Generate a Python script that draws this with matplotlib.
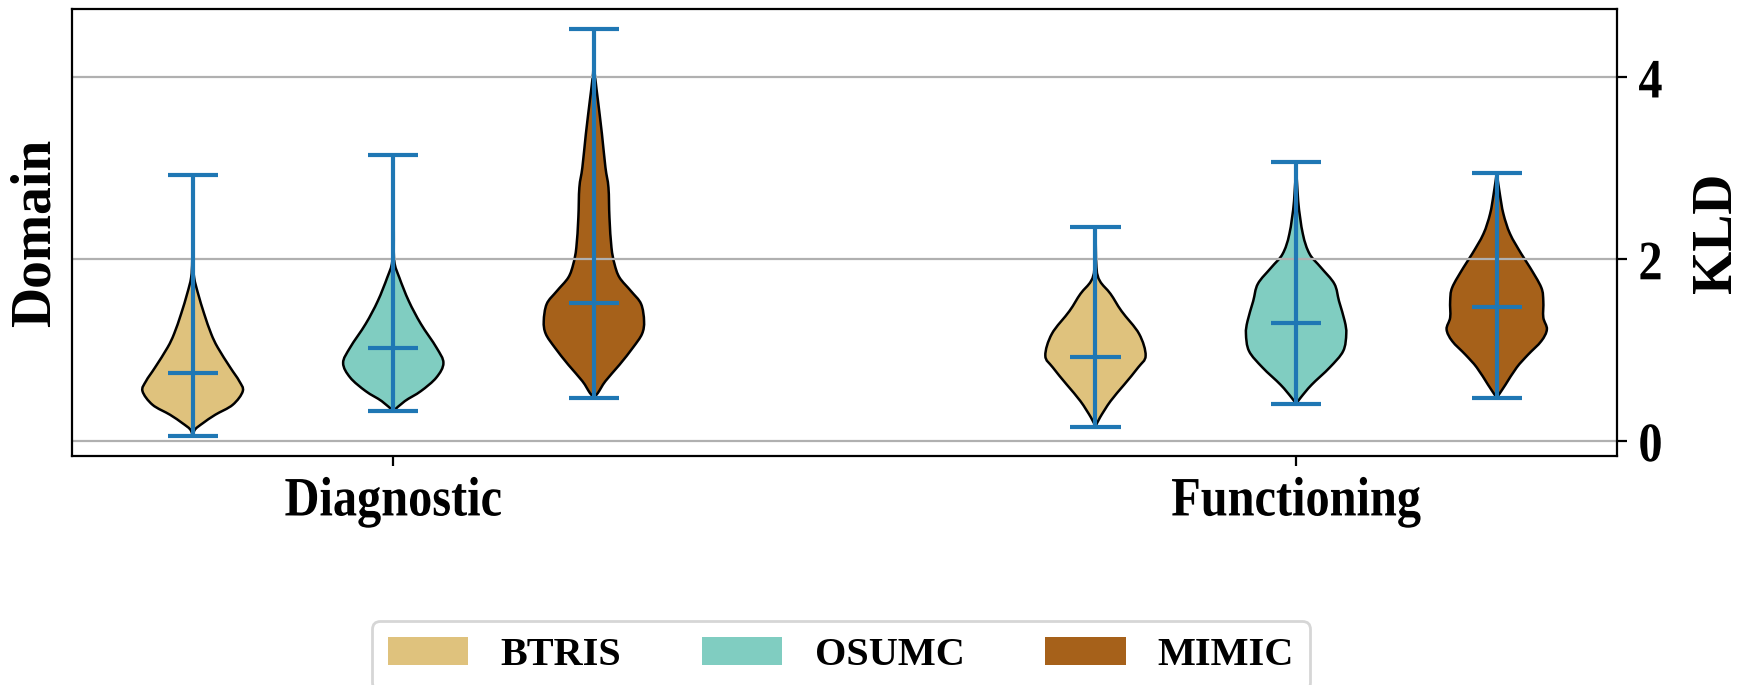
import matplotlib
matplotlib.use("Agg")
import matplotlib.pyplot as plt
from matplotlib.patches import Patch, PathPatch
from matplotlib.path import Path
from matplotlib.patheffects import AbstractPathEffect
from matplotlib.transforms import Affine2D
import numpy as np

plt.rcParams['font.family'] = ['Liberation Serif', 'DejaVu Serif']
plt.rcParams['font.weight'] = 'bold'

# ---- data -------------------------------------------------------------
groups = ['Diagnostic', 'Functioning']
sources = ['BTRIS', 'OSUMC', 'MIMIC']
source_colors = ['#dfc27d', '#80cdc1', '#a6611a']

# summary statistics of KLD per (group, source)
kld_min = [0.06, 0.33, 0.48, 0.16, 0.41, 0.48]
kld_max = [2.93, 3.15, 4.53, 2.36, 3.07, 2.95]
kld_mean = [0.75, 1.02, 1.52, 0.93, 1.30, 1.47]

# density profiles (KLD level, relative density)
diag_btris_levels = [0.06, 0.13, 0.20, 0.29, 0.40, 0.55, 0.66, 0.81, 1.03, 1.18, 1.40, 1.62, 1.80, 2.00, 2.40, 2.93]
diag_btris_density = [0.0, 0.05, 0.21, 0.45, 0.80, 1.0, 0.93, 0.75, 0.50, 0.37, 0.23, 0.11, 0.03, 0.008, 0.003, 0.0]

diag_osumc_levels = [0.33, 0.44, 0.55, 0.70, 0.86, 1.03, 1.29, 1.54, 1.80, 1.98, 2.30, 2.70, 3.15]
diag_osumc_density = [0.0, 0.23, 0.55, 0.86, 1.0, 0.86, 0.55, 0.31, 0.12, 0.02, 0.01, 0.004, 0.0]

diag_mimic_levels = [0.48, 0.53, 0.66, 0.84, 1.03, 1.18, 1.32, 1.51, 1.65, 1.80, 1.95, 2.13, 2.46, 2.79, 3.01, 3.38, 3.75, 3.93, 4.11, 4.53]
diag_mimic_density = [0.0, 0.08, 0.23, 0.51, 0.78, 0.96, 1.0, 0.94, 0.74, 0.51, 0.41, 0.35, 0.31, 0.29, 0.23, 0.16, 0.08, 0.04, 0.01, 0.0]

func_btris_levels = [0.16, 0.26, 0.44, 0.62, 0.81, 0.94, 1.18, 1.43, 1.62, 1.76, 1.91, 2.36]
func_btris_density = [0.0, 0.09, 0.30, 0.57, 0.85, 1.0, 0.87, 0.52, 0.30, 0.09, 0.02, 0.0]

func_osumc_levels = [0.41, 0.48, 0.62, 0.81, 0.99, 1.18, 1.32, 1.54, 1.73, 1.91, 2.06, 2.28, 2.64, 3.07]
func_osumc_density = [0.0, 0.09, 0.30, 0.65, 0.91, 0.97, 0.94, 0.83, 0.74, 0.48, 0.26, 0.13, 0.04, 0.0]

func_mimic_levels = [0.48, 0.51, 0.62, 0.81, 0.95, 1.10, 1.23, 1.36, 1.54, 1.69, 1.91, 2.06, 2.28, 2.50, 2.72, 2.95]
func_mimic_density = [0.0, 0.04, 0.17, 0.39, 0.61, 0.87, 0.98, 0.91, 0.91, 0.87, 0.65, 0.48, 0.26, 0.13, 0.06, 0.0]

profiles = [
    (diag_btris_levels, diag_btris_density),
    (diag_osumc_levels, diag_osumc_density),
    (diag_mimic_levels, diag_mimic_density),
    (func_btris_levels, func_btris_density),
    (func_osumc_levels, func_osumc_density),
    (func_mimic_levels, func_mimic_density),
]

# ---- layout -----------------------------------------------------------
group_centers = [2.0, 6.5]
offsets = [-1.0, 0.0, 1.0]
positions = [c + o for c in group_centers for o in offsets]
violin_width = 0.5


class Condensed(AbstractPathEffect):
    """Narrow the glyphs of a text along its baseline, about its centre."""

    def __init__(self, factor):
        super().__init__()
        self._factor = factor

    def draw_path(self, renderer, gc, tpath, affine, rgbFace=None):
        ext = tpath.get_extents()
        cx = 0.5 * (ext.x0 + ext.x1)
        narrow = Affine2D().translate(-cx, 0).scale(self._factor, 1).translate(cx, 0)
        renderer.draw_path(gc, tpath, narrow + affine, rgbFace)


def smooth_side(points):
    """Cubic Bezier segments (Catmull-Rom handles) through an open list of points."""
    p = np.asarray(points, dtype=float)
    ext = np.vstack([p[0], p, p[-1]])
    verts, codes = [], []
    for i in range(len(p) - 1):
        p0, p1, p2, p3 = ext[i], ext[i + 1], ext[i + 2], ext[i + 3]
        c1 = p1 + (p2 - p0) / 6.0
        c2 = p2 - (p3 - p1) / 6.0
        verts += [c1, c2, p2]
        codes += [Path.CURVE4] * 3
    return verts, codes


def violin_outline(pos, levels, density, width):
    lv = np.asarray(levels, dtype=float)
    dn = np.asarray(density, dtype=float)
    half = dn / dn.max() * width / 2.0
    right = np.column_stack([pos + half, lv])
    left = np.column_stack([pos - half, lv])[::-1]
    verts = [right[0]]
    codes = [Path.MOVETO]
    v, c = smooth_side(right)
    verts += v
    codes += c
    verts.append(left[0])
    codes.append(Path.LINETO)
    v, c = smooth_side(left)
    verts += v
    codes += c
    verts.append(right[0])
    codes.append(Path.CLOSEPOLY)
    return Path(np.asarray(verts), codes)


fig = plt.figure(figsize=(8.715, 3.425), dpi=200)
ax = fig.add_axes([0.0413, 0.3343, 0.8865, 0.6526])

stats = []
for (lv, dn), mn, mx, me in zip(profiles, kld_min, kld_max, kld_mean):
    stats.append(dict(coords=np.asarray(lv), vals=np.asarray(dn),
                      mean=me, median=me, min=mn, max=mx))

parts = ax.violin(stats, positions=positions, widths=violin_width,
                  showmeans=True, showextrema=True, showmedians=False)

# replace the straight-edged bodies with smooth outlines
for body in parts['bodies']:
    body.set_visible(False)
for i, ((lv, dn), pos) in enumerate(zip(profiles, positions)):
    outline = violin_outline(pos, lv, dn, violin_width)
    ax.add_patch(PathPatch(outline, facecolor=source_colors[i % 3],
                           edgecolor='black', linewidth=0.9, zorder=1))

for key in ('cbars', 'cmins', 'cmaxes', 'cmeans'):
    parts[key].set_color('#1f77b4')
    parts[key].set_linewidth(1.5)

ax.set_xticks(group_centers, groups)
ax.set_yticks([0, 2, 4])
ax.tick_params(axis='both', labelsize=20)
ax.yaxis.tick_right()
ax.yaxis.set_label_position('right')
ax.set_ylabel('KLD', fontsize=20, fontweight='bold', labelpad=9.5)
ax.yaxis.grid(True)

for lbl in ax.get_xticklabels() + ax.get_yticklabels():
    lbl.set_path_effects([Condensed(0.87)])

ax.text(-0.0065, 0.5, 'Domain', rotation=90, transform=ax.transAxes,
        ha='right', va='center', fontsize=20, fontweight='bold')

handles = [Patch(facecolor=c, label=s) for c, s in zip(source_colors, sources)]
fig.legend(handles=handles, loc='upper center', bbox_to_anchor=(0.4825, 0.0934),
           borderaxespad=0.0, ncol=3, prop={'size': 14.5, 'weight': 'bold'})

fig.savefig('out.png', dpi=200)
